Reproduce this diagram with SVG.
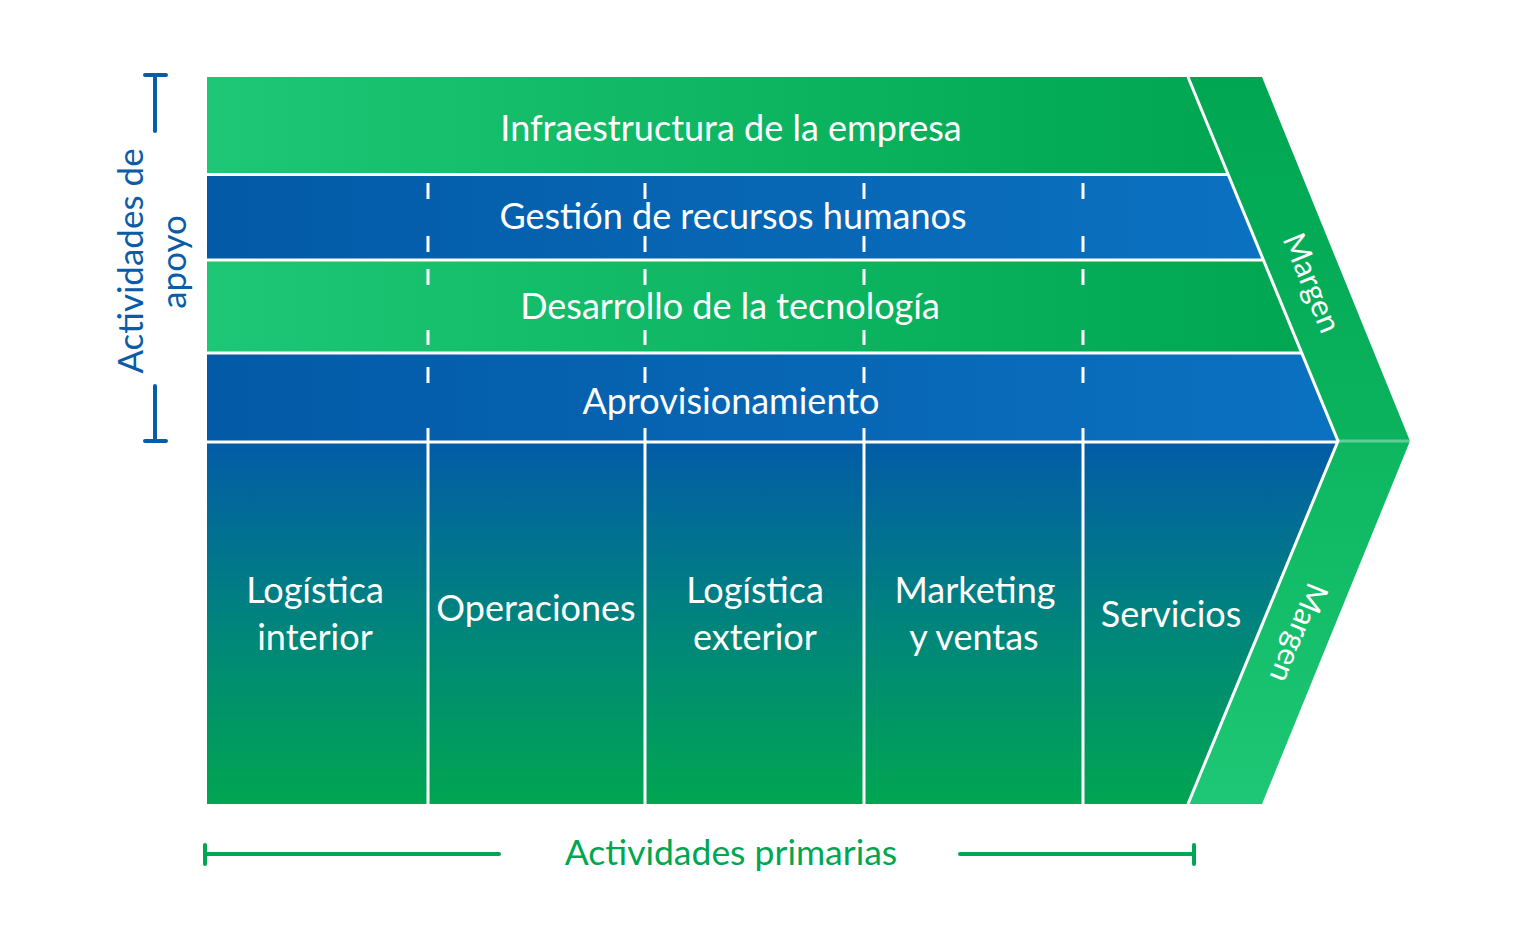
<svg xmlns="http://www.w3.org/2000/svg" width="1520" height="941" viewBox="0 0 1520 941">
  <defs>
    <linearGradient id="gGreenH" x1="0" y1="0" x2="1" y2="0">
      <stop offset="0" stop-color="#1dc775"/>
      <stop offset="1" stop-color="#00a651"/>
    </linearGradient>
    <linearGradient id="gBlueH" x1="0" y1="0" x2="1" y2="0">
      <stop offset="0" stop-color="#035aa6"/>
      <stop offset="1" stop-color="#0b71c1"/>
    </linearGradient>
    <linearGradient id="gPrimary" gradientUnits="userSpaceOnUse" x1="0" y1="441" x2="0" y2="804">
      <stop offset="0" stop-color="#035ba7"/>
      <stop offset="0.5" stop-color="#00847d"/>
      <stop offset="1" stop-color="#00a651"/>
    </linearGradient>
    <linearGradient id="gMarginTop" gradientUnits="userSpaceOnUse" x1="0" y1="77" x2="0" y2="441">
      <stop offset="0" stop-color="#00a651"/>
      <stop offset="1" stop-color="#0bb35e"/>
    </linearGradient>
    <linearGradient id="gMarginBot" gradientUnits="userSpaceOnUse" x1="0" y1="441" x2="0" y2="804">
      <stop offset="0" stop-color="#0db65f"/>
      <stop offset="1" stop-color="#1dc775"/>
    </linearGradient>
    <style>
      .lbl { font-family: "Lato", "Open Sans", "DejaVu Sans", sans-serif; fill: #ffffff; font-size: 36px; text-anchor: middle; }
      .mrg { font-family: "Lato", "Open Sans", "DejaVu Sans", sans-serif; fill: #ffffff; font-size: 31px; text-anchor: middle; }
      .axisB { font-family: "Lato", "Open Sans", "DejaVu Sans", sans-serif; fill: #0a5ca8; font-size: 35px; text-anchor: middle; }
      .axisG { font-family: "Lato", "Open Sans", "DejaVu Sans", sans-serif; fill: #00a651; font-size: 35.5px; text-anchor: middle; }
      .sep { stroke: #ffffff; stroke-width: 3; fill: none; }
      .dash { stroke: #ffffff; stroke-width: 3; fill: none; }
      .brB { stroke: #0a5ca8; stroke-width: 4; stroke-linecap: round; fill: none; }
      .brG { stroke: #00a651; stroke-width: 4; stroke-linecap: round; fill: none; }
    </style>
  </defs>

  <rect x="0" y="0" width="1520" height="941" fill="#ffffff"/>

  <!-- support activities -->
  <g id="infraestructura">
    <polygon points="207,77 1188,77 1228,174 207,174" fill="url(#gGreenH)"/>
    <text class="lbl" x="731" y="141">Infraestructura de la empresa</text>
  </g>
  <g id="recursos-humanos">
    <polygon points="207,174 1228,174 1264,260 207,260" fill="url(#gBlueH)"/>
    <text class="lbl" x="733" y="229">Gestión de recursos humanos</text>
  </g>
  <g id="tecnologia">
    <polygon points="207,260 1264,260 1302,353 207,353" fill="url(#gGreenH)"/>
    <text class="lbl" x="730" y="319">Desarrollo de la tecnología</text>
  </g>
  <g id="aprovisionamiento">
    <polygon points="207,353 1302,353 1338,441 207,441" fill="url(#gBlueH)"/>
    <text class="lbl" x="731" y="414">Aprovisionamiento</text>
  </g>

  <!-- primary activities -->
  <g id="primarias">
    <polygon points="207,441 1338,441 1188,804 207,804" fill="url(#gPrimary)"/>
  </g>
  <g id="logistica-interior">
    <text class="lbl" x="315" y="603">Logística</text>
    <text class="lbl" x="315" y="650">interior</text>
  </g>
  <g id="operaciones">
    <text class="lbl" x="536" y="621">Operaciones</text>
  </g>
  <g id="logistica-exterior">
    <text class="lbl" x="755" y="603">Logística</text>
    <text class="lbl" x="755" y="650">exterior</text>
  </g>
  <g id="marketing-ventas">
    <text class="lbl" x="975" y="603">Marketing</text>
    <text class="lbl" x="974" y="650">y ventas</text>
  </g>
  <g id="servicios">
    <text class="lbl" x="1171" y="627">Servicios</text>
  </g>

  <!-- margin chevron -->
  <g id="margen-superior">
    <polygon points="1188,77 1262,77 1410,441 1338,441" fill="url(#gMarginTop)"/>
    <text class="mrg" transform="translate(1302,287) rotate(67.6)" x="0" y="0">Margen</text>
  </g>
  <g id="margen-inferior">
    <polygon points="1338,441 1410,441 1262,804 1188,804" fill="url(#gMarginBot)"/>
    <text class="mrg" transform="translate(1289,629) rotate(112.4)" x="0" y="0">Margen</text>
  </g>

  <!-- dividing lines between the activity blocks -->
  <g id="connectors">
    <line class="sep" x1="207" y1="174.5" x2="1228.5" y2="174.5"/>
    <line class="sep" x1="207" y1="260" x2="1264" y2="260"/>
    <line class="sep" x1="207" y1="353" x2="1302" y2="353"/>
    <line class="sep" x1="207" y1="442" x2="1338" y2="442"/>
    <polyline class="sep" points="1188,77 1338,441 1188,804"/>
    <line class="sep" x1="1338" y1="441" x2="1410" y2="441" stroke-width="1" opacity="0.35"/>

    <line class="sep" x1="428" y1="442" x2="428" y2="804"/>
    <line class="sep" x1="645" y1="442" x2="645" y2="804"/>
    <line class="sep" x1="864" y1="442" x2="864" y2="804"/>
    <line class="sep" x1="1083" y1="442" x2="1083" y2="804"/>

    <path class="dash" d="M428,183V199M428,236V252M428,269V285M428,330V345M428,367V383M428,428V442"/>
    <path class="dash" d="M645,183V199M645,236V252M645,269V285M645,330V345M645,367V383M645,428V442"/>
    <path class="dash" d="M864,183V199M864,236V252M864,269V285M864,330V345M864,367V383M864,428V442"/>
    <path class="dash" d="M1083,183V199M1083,236V252M1083,269V285M1083,330V345M1083,367V383M1083,428V442"/>
  </g>

  <!-- axis brackets -->
  <g id="eje-apoyo">
    <path class="brB" d="M145,75H166M155,75V131M155,386V441M145,441H166"/>
    <text class="axisB" transform="translate(143,261) rotate(-90)" x="0" y="0">Actividades de</text>
    <text class="axisB" transform="translate(186,262) rotate(-90)" x="0" y="0">apoyo</text>
  </g>
  <g id="eje-primarias">
    <path class="brG" d="M205,845V864M205,854H499M960,854H1194M1194,845V864"/>
    <text class="axisG" x="731" y="865">Actividades primarias</text>
  </g>
</svg>
